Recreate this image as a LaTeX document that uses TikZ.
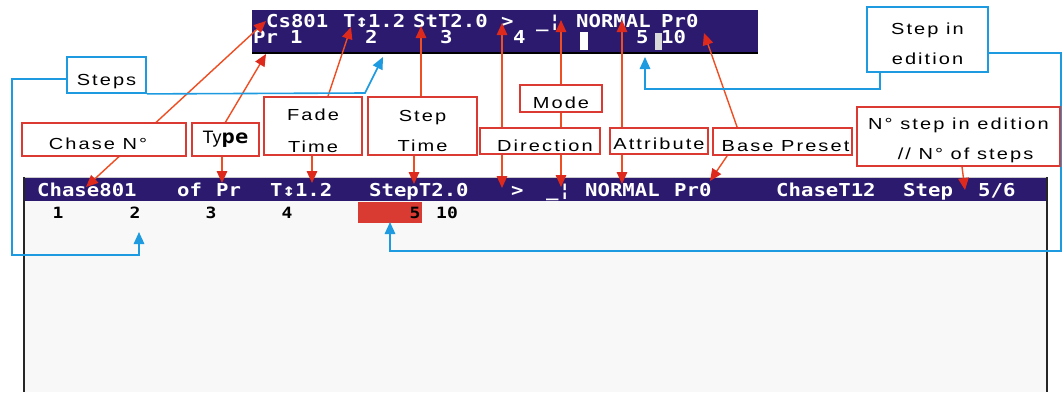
\documentclass[tikz,border=0pt]{standalone}
\usepackage{fontspec}
\usetikzlibrary{arrows.meta}
\newfontfamily\labfont[FakeStretch=1.25,LetterSpace=13]{Liberation Sans}
\newfontfamily\narrowsans{Liberation Sans}
\newfontfamily\vgafont[FakeStretch=1.16]{DejaVu Sans Mono}
\definecolor{barnavy}{HTML}{2B1A6E}
\definecolor{boxred}{HTML}{DA3A32}
\definecolor{linered}{HTML}{EE4E22}
\definecolor{tipred}{HTML}{DD2A1C}
\definecolor{lineblue}{HTML}{1E9BE0}
\definecolor{panel}{HTML}{F8F8F8}
\definecolor{numred}{HTML}{D93A31}
\pgfdeclarelayer{bg}
\pgfdeclarelayer{lines}
\pgfsetlayers{bg,lines,main}
\tikzset{
  rtip/.tip={Triangle[width=10.5pt,length=12pt,color=tipred]},
  btip/.tip={Triangle[width=10.5pt,length=12pt,color=lineblue]},
  lab/.style={fill=white, line width=1.8pt, inner sep=0pt,
    font=\labfont\fontsize{16}{19}\selectfont, align=center},
  redbox/.style={lab, draw=boxred},
  bluebox/.style={lab, draw=lineblue},
  rline/.style={draw=linered, line width=1.4pt},
  bline/.style={draw=lineblue, line width=1.6pt},
  scr/.style={font=\vgafont\bfseries\fontsize{17.8}{19}\selectfont,
    text=white, inner sep=0pt, anchor=base west},
  num/.style={font=\vgafont\bfseries\fontsize{15.5}{17}\selectfont,
    text=black, inner sep=0pt, anchor=base},
}
\begin{document}
\begin{tikzpicture}[x=1pt,y=-1pt]
\useasboundingbox (0,0) rectangle (1062,392);

% ---------- screens ----------
\begin{pgfonlayer}{bg}
\fill[white] (0,0) rectangle (1062,392);
% small status bar
\fill[barnavy] (252,10) rectangle (758,53);
\draw[black, line width=1.5pt] (252,53) -- (758,53);
\fill[white] (580,32) rectangle (588,50);
\fill[black!15] (655,33) rectangle (662,50);
\node[scr] (cs) at (266,27) {Cs801};
\node[scr] (tf) at (343,27) {T↕1.2};
\node[scr] (st) at (413,27) {StT2.0};
\node[scr] (dr) at (501,27) {>};
\node[scr] (md) at (536,27) {\_¦};
\node[scr] (nm) at (576,27) {NORMAL};
\node[scr] (pz) at (661,27) {Pr0};
\node[scr] (pr) at (253,43.5) {Pr};
\node[scr] (s1) at (290,43.5) {1};
\node[scr] (s2) at (365,43.5) {2};
\node[scr] (s3) at (440,43.5) {3};
\node[scr] (s4) at (513,43.5) {4};
\node[scr] (s5) at (636,43.5) {5};
\node[scr] (s10) at (661,43.5) {10};

% full chase screen
\fill[panel] (24,201) rectangle (1047,392);
\fill[barnavy] (24,177) rectangle (1047,201);
\draw[gray!40, line width=0.8pt] (24,177) -- (1047,177);
\draw[black!85, line width=2.5pt] (24,177) -- (24,392) (1047,177) -- (1047,392);
\fill[numred] (358,202) rectangle (422,223);
\node[scr] (bch) at (37,196) {Chase801};
\node[scr] (bof) at (177,196) {of};
\node[scr] (bpr) at (216,196) {Pr};
\node[scr] (btf) at (270,196) {T↕1.2};
\node[scr] (bst) at (369,196) {StepT2.0};
\node[scr] (bdr) at (511,196) {>};
\node[scr] (bmd) at (546,196) {\_¦};
\node[scr] (bnm) at (585,196) {NORMAL};
\node[scr] (bpz) at (674,196) {Pr0};
\node[scr] (bct) at (776,196) {ChaseT12};
\node[scr] (bsp) at (903,196) {Step};
\node[scr] (bns) at (978,196) {5/6};
\node[num] (n1) at (58,218) {1};
\node[num] (n2) at (135,218) {2};
\node[num] (n3) at (211,218) {3};
\node[num] (n4) at (287,218) {4};
\node[num] (n5) at (415,218) {5};
\node[num] (n10) at (447,218) {10};
\end{pgfonlayer}

% ---------- arrow targets on the screens ----------
\coordinate (tCs) at (266,21);
\coordinate (tPr) at (266,54);
\coordinate (tFade) at (351,27);
\coordinate (tStT) at (421,26);
\coordinate (tDir) at (502,23);
\coordinate (tMode) at (561,20);
\coordinate (tAttr) at (622,20);
\coordinate (tPr0) at (704,33);
\coordinate (tTwo) at (383,57);
\coordinate (tFive) at (645,57);
\coordinate (bCh) at (86,187);
\coordinate (bPr) at (222,183);
\coordinate (bFade) at (312,183);
\coordinate (bStep) at (414,184);
\coordinate (bDir) at (502,188);
\coordinate (bMode) at (561,187);
\coordinate (bAttr) at (622,184);
\coordinate (bPr0) at (710,181);
\coordinate (bNst) at (965,190);
\coordinate (bTwo) at (139,232);
\coordinate (bFive) at (390,222);
\coordinate (sl) at (12,255);
\coordinate (sk) at (365,93);
\coordinate (er) at (1061,251);
\coordinate (eb) at (880,89);

% ---------- labels ----------
\node[redbox, minimum width=164pt, minimum height=33pt, text height=20.5pt, text depth=0pt]
  (chase) at (104,139.5) {Chase N°\hspace{12pt}};
\node[redbox, minimum width=67pt, minimum height=33pt]
  (type) at (225.5,139.5) {{\narrowsans\fontsize{18}{20}\selectfont Ty}{\vgafont\bfseries\fontsize{19}{20}\selectfont pe}};
\node[redbox, minimum width=98pt, minimum height=58pt, text height=53.5pt, text depth=0pt]
  (fade) at (313,126) {Fade\\[13pt]Time};
\node[redbox, minimum width=109pt, minimum height=58pt, text height=50.5pt, text depth=0pt]
  (steptime) at (422.5,126) {Step\\[11pt]Time};
\node[redbox, minimum width=82pt, minimum height=27pt, text height=19.5pt, text depth=0pt]
  (mode) at (561,98.5) {Mode};
\node[redbox, minimum width=120pt, minimum height=26pt, text height=21.5pt, text depth=0pt]
  (direction) at (540,141) {\hspace{10pt}Direction};
\node[redbox, minimum width=98pt, minimum height=26pt, text height=16.5pt, text depth=0pt]
  (attribute) at (659,141) {Attribute};
\node[redbox, minimum width=139pt, minimum height=27pt, text height=20.5pt, text depth=0pt]
  (base) at (782.5,141.5) {\hspace{6pt}Base Preset};
\node[redbox, minimum width=203pt, minimum height=59pt, text height=46.5pt, text depth=0pt]
  (nstep) at (958.5,136.5) {N° step in edition\\[11pt]\hspace{14pt}// N° of steps};
\node[bluebox, minimum width=79pt, minimum height=36pt, text height=20.5pt, text depth=0pt]
  (stepsbox) at (106.5,75) {Steps};
\node[bluebox, minimum width=121pt, minimum height=65pt, text height=49.5pt, text depth=0pt]
  (edition) at (927.5,39.5) {Step in\\[11pt]edition};

% ---------- connectors ----------
\begin{pgfonlayer}{lines}
\draw[rline, rtip-rtip] (bCh) -- (tCs);
\draw[rline, -rtip] (type.north) -- (tPr);
\draw[rline, -rtip] (type.south -| bPr) -- (bPr);
\draw[rline, -rtip] ([xshift=15pt]fade.north) -- (tFade);
\draw[rline, -rtip] (fade.south -| bFade) -- (bFade);
\draw[rline, -rtip] (steptime.north -| tStT) -- (tStT);
\draw[rline, -rtip] (steptime.south -| bStep) -- (bStep);
\draw[rline, -rtip] (mode.north -| tMode) -- (tMode);
\draw[rline, -rtip] (mode.south -| bMode) -- (bMode);
\draw[rline, -rtip] (direction.north -| tDir) -- (tDir);
\draw[rline, -rtip] (direction.south -| bDir) -- (bDir);
\draw[rline, -rtip] (attribute.north -| tAttr) -- (tAttr);
\draw[rline, -rtip] (attribute.south -| bAttr) -- (bAttr);
\draw[rline, -rtip] ([xshift=25pt]base.north west) -- (tPr0);
\draw[rline, -rtip] ([xshift=15pt]base.south west) -- (bPr0);
\draw[rline, -rtip] ([xshift=3.5pt]nstep.south) -- (bNst);
\draw[bline, -btip] ([yshift=-4pt]stepsbox.west) -| (sl) -| (bTwo);
\draw[bline, -btip] (stepsbox.south east) -- (sk) -- (tTwo);
\draw[bline, -btip] ([yshift=-13.5pt]edition.east) -| (er) -| (bFive);
\draw[bline, -btip] (edition.south -| eb) -- (eb) -| (tFive);
\end{pgfonlayer}
\end{tikzpicture}
\end{document}
